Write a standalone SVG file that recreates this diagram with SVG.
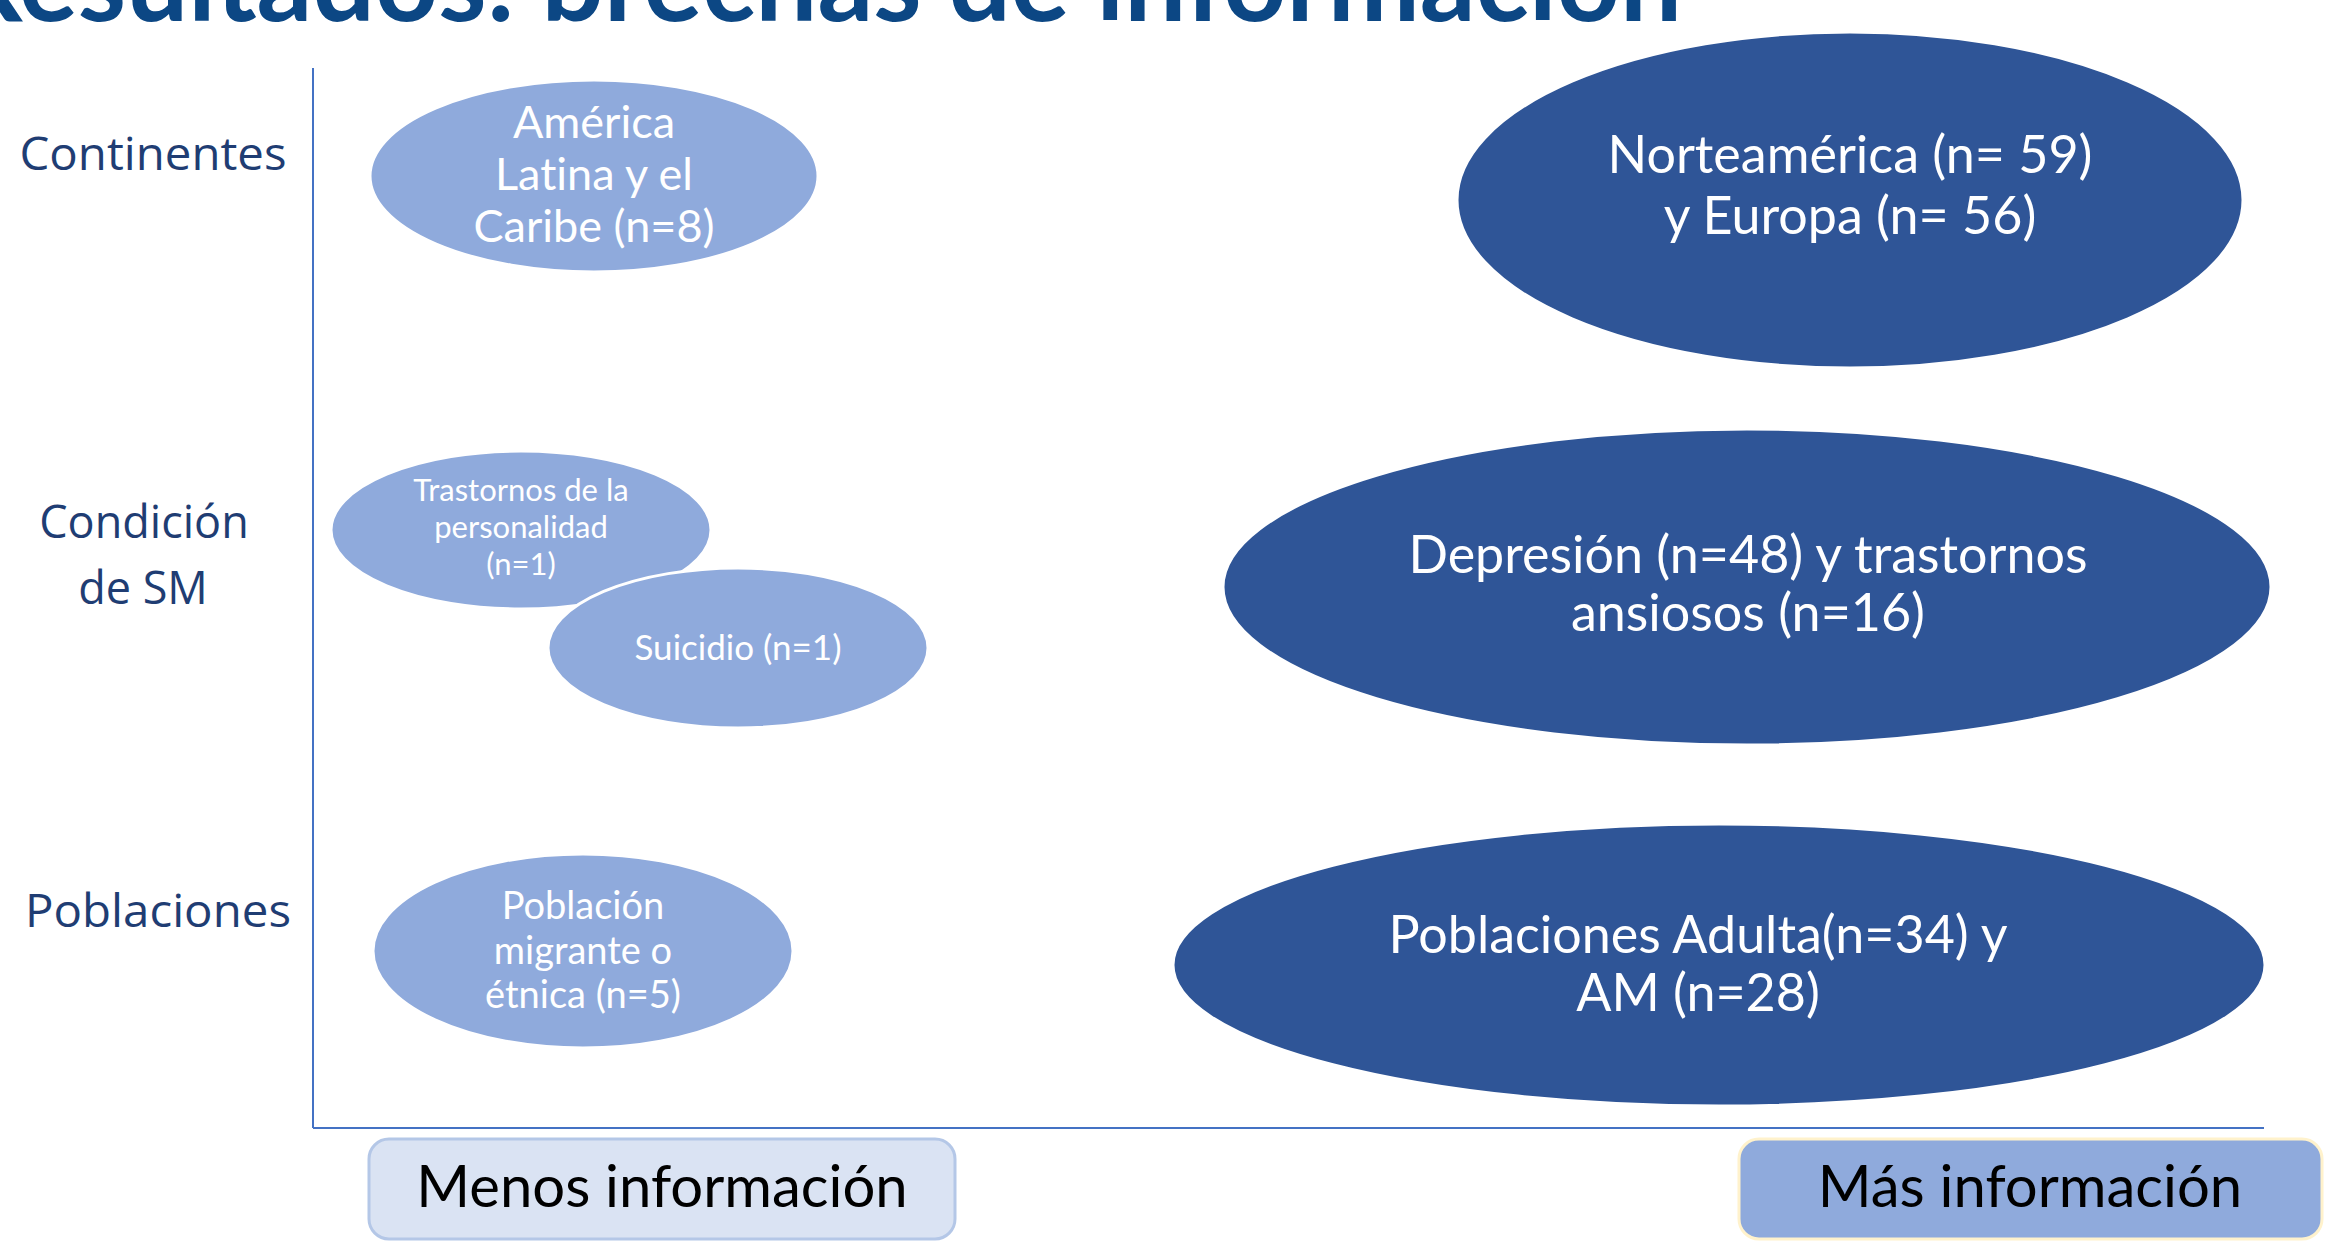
<svg xmlns="http://www.w3.org/2000/svg" width="2325" height="1241" viewBox="0 0 2325 1241">
<style>
text{font-variant-ligatures:none}
.light{fill:#8FAADC;stroke:#FFFFFF;stroke-width:3}
.dark{fill:#2F5597;stroke:#FFFFFF;stroke-width:3}
.t{font-family:Lato,"Liberation Sans",sans-serif;fill:#FFFFFF;text-anchor:middle}
.row{font-family:"Open Sans","Noto Sans",sans-serif;fill:#1F3D73;text-anchor:middle;font-size:45px}
.box{font-family:Lato,"Liberation Sans",sans-serif;fill:#000000;text-anchor:middle;font-size:58px}
.axis{stroke:#4472C4;stroke-width:2;fill:none}
</style>
<rect x="0" y="0" width="2325" height="1241" fill="#FFFFFF"/>
<text x="-48" y="21" font-family="Lato,'Liberation Sans',sans-serif" font-weight="bold" font-size="112" fill="#0C4784" textLength="1730" lengthAdjust="spacingAndGlyphs">Resultados: brechas de información</text>
<g id="axes">
<line class="axis" x1="313" y1="68" x2="313" y2="1128"/>
<line class="axis" x1="313" y1="1128" x2="2264" y2="1128"/>
</g>
<g id="row-continentes"><text class="row" x="153" y="170" textLength="267" lengthAdjust="spacingAndGlyphs">Continentes</text></g>
<g id="row-condicion"><text class="row" x="144" y="538">Condición</text><text class="row" x="143" y="604">de SM</text></g>
<g id="row-poblaciones"><text class="row" x="158" y="927" textLength="266" lengthAdjust="spacingAndGlyphs">Poblaciones</text></g>
<g id="node-america">
<ellipse class="light" cx="594" cy="176" rx="224" ry="96"/>
<text class="t" font-size="45"><tspan x="594" y="138">América</tspan><tspan x="594" y="190">Latina y el</tspan><tspan x="594" y="242">Caribe (n=8)</tspan></text>
</g>
<g id="node-norteamerica">
<ellipse class="dark" cx="1850" cy="200" rx="393" ry="168"/>
<text class="t" font-size="52"><tspan x="1850" y="173">Norteamérica (n= 59)</tspan><tspan x="1850" y="234">y Europa (n= 56)</tspan></text>
</g>
<g id="node-trastornos">
<ellipse class="light" cx="521" cy="530" rx="190" ry="79"/>
<text class="t" font-size="31"><tspan x="521" y="501">Trastornos de la</tspan><tspan x="521" y="538">personalidad</tspan><tspan x="521" y="575">(n=1)</tspan></text>
</g>
<g id="node-suicidio">
<ellipse class="light" cx="738" cy="648" rx="190" ry="80"/>
<text class="t" font-size="35" x="738" y="660">Suicidio (n=1)</text>
</g>
<g id="node-depresion">
<ellipse class="dark" cx="1747" cy="587" rx="524" ry="158"/>
<text class="t" font-size="52"><tspan x="1748" y="573">Depresión (n=48) y trastornos</tspan><tspan x="1748" y="631">ansiosos (n=16)</tspan></text>
</g>
<g id="node-poblacion-migrante">
<ellipse class="light" cx="583" cy="951" rx="210" ry="97"/>
<text class="t" font-size="38"><tspan x="583" y="919">Población</tspan><tspan x="583" y="964">migrante o</tspan><tspan x="583" y="1008">étnica (n=5)</tspan></text>
</g>
<g id="node-poblaciones-adulta">
<ellipse class="dark" cx="1719" cy="965" rx="546" ry="141"/>
<text class="t" font-size="52"><tspan x="1698" y="953">Poblaciones Adulta(n=34) y</tspan><tspan x="1698" y="1011">AM (n=28)</tspan></text>
</g>
<g id="box-menos">
<rect x="369" y="1139" width="586" height="100" rx="20" fill="#DAE3F3" stroke="#B4C7E7" stroke-width="3"/>
<text class="box" x="662" y="1207">Menos información</text>
</g>
<g id="box-mas">
<rect x="1739" y="1139" width="583" height="100" rx="20" fill="#8FAADC" stroke="#FFF2CC" stroke-width="3"/>
<text class="box" x="2030" y="1207">Más información</text>
</g>
<g id="connectors"></g>
</svg>
